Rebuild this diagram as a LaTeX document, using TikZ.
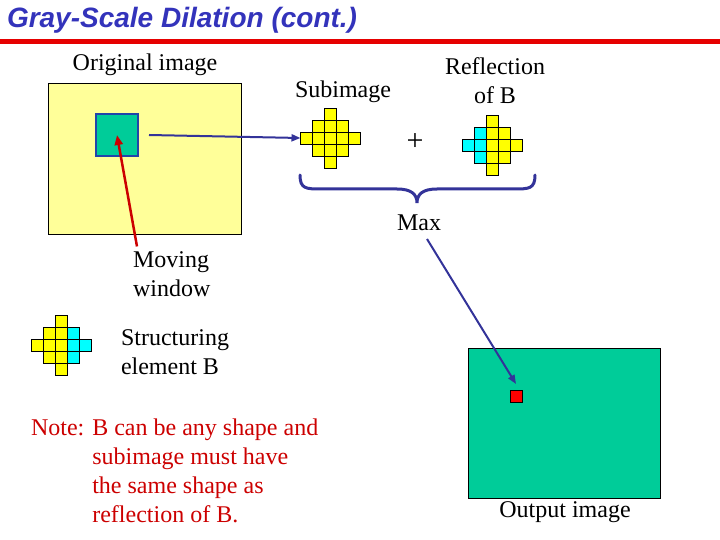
\documentclass[tikz,border=0pt]{standalone}
\usepackage{fontspec}
\setmainfont{Liberation Serif}
\newfontfamily\titlefont{Liberation Sans}
\usetikzlibrary{arrows.meta, positioning}
\definecolor{paleyellow}{RGB}{255,255,153}
\definecolor{imgteal}{RGB}{0,204,153}
\definecolor{navy}{RGB}{51,51,153}
\definecolor{titleblue}{RGB}{51,51,187}
\definecolor{winblue}{RGB}{34,68,170}
\definecolor{notered}{RGB}{204,0,0}
\definecolor{rulered}{RGB}{230,0,0}
\definecolor{cellyellow}{RGB}{255,255,0}
\definecolor{cellcyan}{RGB}{0,255,255}
\definecolor{pixred}{RGB}{255,0,0}

\begin{document}
\begin{tikzpicture}[x=1pt, y=-1pt,
  every node/.style={inner sep=0pt, outer sep=0pt, font=\fontsize{24}{29}\selectfont},
  cell/.style={draw=black, line width=0.8pt},
  bluearrow/.style={navy, line width=2pt, -{Triangle[length=9pt, width=7pt]}},
  redarrow/.style={notered, line width=2.5pt, -{Triangle[length=10pt, width=8pt]}}]
  \useasboundingbox (0,0) rectangle (720,540);

  \node[anchor=west, text=titleblue, font=\titlefont\bfseries\itshape\fontsize{28}{34}\selectfont] (title) at (7,20) {Gray-Scale Dilation (cont.)};
  \draw[rulered, line width=5pt] (0,41.5) -- (720,41.5);

  \node (origlbl) at (145,65) {Original image};
  \node[draw=black, line width=1pt, fill=paleyellow, minimum width=193pt, minimum height=150pt] (orig) at (144.5,159) {};
  \node[draw=winblue, line width=2.5pt, fill=imgteal, minimum size=42pt] (win) at (117,135) {};

  \node (sublbl) at (343,92) {Subimage};
  \node[align=center] (refllbl) at (495,81) {Reflection\\of B};

  \node[minimum size=60pt] (sub) at (330.5,138) {};
  \node[minimum size=60pt] (refl) at (492,145) {};
  \node[minimum size=60pt] (se) at (61,345) {};
  \node[font=\fontsize{30}{34}\selectfont] (plus) at (415,142) {+};

  \begin{scope}[shift={(sub.center)}]
    \foreach \c/\r in {0/-2,-1/-1,0/-1,1/-1,-2/0,-1/0,0/0,1/0,2/0,-1/1,0/1,1/1,0/2}
      \draw[cell, fill=cellyellow] (\c*12-6,\r*12-6) rectangle ++(12,12);
  \end{scope}
  \begin{scope}[shift={(refl.center)}, xscale=-1]
    \foreach \c/\r/\f in {0/-2/cellyellow,-1/-1/cellyellow,0/-1/cellyellow,1/-1/cellcyan,-2/0/cellyellow,-1/0/cellyellow,0/0/cellyellow,1/0/cellcyan,2/0/cellcyan,-1/1/cellyellow,0/1/cellyellow,1/1/cellcyan,0/2/cellyellow}
      \draw[cell, fill=\f] (\c*12-6,\r*12-6) rectangle ++(12,12);
  \end{scope}
  \begin{scope}[shift={(se.center)}]
    \foreach \c/\r/\f in {0/-2/cellyellow,-1/-1/cellyellow,0/-1/cellyellow,1/-1/cellcyan,-2/0/cellyellow,-1/0/cellyellow,0/0/cellyellow,1/0/cellcyan,2/0/cellcyan,-1/1/cellyellow,0/1/cellyellow,1/1/cellcyan,0/2/cellyellow}
      \draw[cell, fill=\f] (\c*12-6,\r*12-6) rectangle ++(12,12);
  \end{scope}

  % brace under subimage and reflection
  \draw[navy, line width=3pt, line cap=round]
    (300,175) .. controls (300,189) and (306,189) .. (322,189) -- (397,189)
    .. controls (411,189) and (417,194) .. (417,203)
    .. controls (417,194) and (423,189) .. (437,189) -- (513,189)
    .. controls (529,189) and (535,189) .. (535,175);
  \node (max) at (419,223) {Max};

  \node[anchor=west, align=left] (mov) at (133,274) {Moving\\window};
  \node[anchor=west, align=left] (selbl) at (121,352) {Structuring\\element B};
  \node[anchor=west, align=left, text=notered] (note) at (31,471)
    {Note: B can be any shape and\\\hphantom{Note: }subimage must have\\\hphantom{Note: }the same shape as\\\hphantom{Note: }reflection of B.};

  \node[draw=black, line width=1pt, fill=imgteal, minimum width=192pt, minimum height=150pt] (out) at (564,423) {};
  \node[draw=black, line width=1pt, fill=pixred, minimum size=12pt] (pix) at (516,396) {};
  \node (outlbl) at (565,512) {Output image};

  \draw[bluearrow] ([xshift=11pt]win.east) -- (sub.west);
  \draw[redarrow] ([shift={(4pt,5pt)}]mov.north west) -- (win.center);
  \draw[bluearrow] ([shift={(8pt,-8pt)}]max.south) -- ([yshift=6pt]pix.north);
\end{tikzpicture}
\end{document}
